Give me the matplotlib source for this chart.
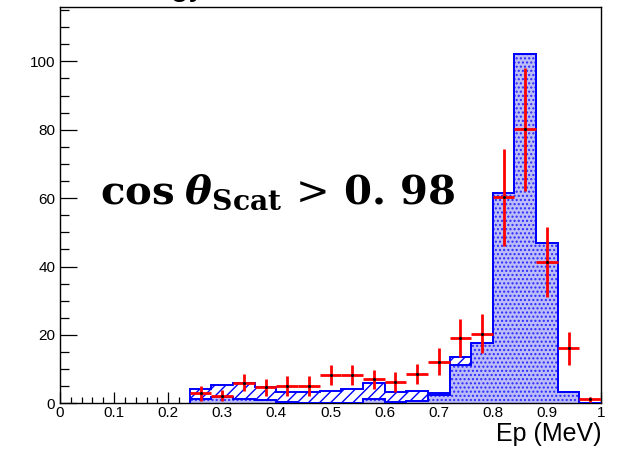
import numpy as np
import matplotlib
matplotlib.use("Agg")
import matplotlib.pyplot as plt
from matplotlib.ticker import MultipleLocator, FixedLocator

plt.rcParams["font.family"] = ["Liberation Sans", "DejaVu Sans"]
plt.rcParams["mathtext.fontset"] = "dejavuserif"
plt.rcParams["hatch.linewidth"] = 1.0

# Histogram binning (Ep in MeV)
bin_lo = 0.24
bin_width = 0.04

# Signal component (bottom of the stack, dotted fill)
signal = [1.2, 2.0, 1.2, 1.0, 0.3, 0.0, 0.0, 0.0, 1.3, 0.5,
          0.6, 2.4, 11.2, 17.6, 61.4, 102.2, 47.0, 3.2, 0.0]
# Background component (stacked on top, hatched fill)
background = [2.9, 3.4, 4.9, 3.8, 2.9, 3.2, 3.7, 4.3, 4.7, 2.8,
              3.0, 0.5, 2.5, 0.0, 0.0, 0.0, 0.0, 0.0, 0.0]
# Measured data with uncertainties
data = [3.0, 2.3, 6.1, 4.7, 5.2, 5.2, 8.3, 8.3, 7.1, 6.2,
        8.6, 12.2, 19.2, 20.3, 60.2, 80.1, 41.3, 16.1, 1.2]
data_err = [2.2, 1.5, 2.5, 2.5, 2.9, 2.9, 3.0, 3.0, 2.8, 3.0,
            2.9, 3.9, 5.6, 5.7, 14.2, 18.0, 10.2, 4.8, 0.8]

x_ticks = [0, 0.1, 0.2, 0.3, 0.4, 0.5, 0.6, 0.7, 0.8, 0.9, 1]
x_tick_labels = ["0", "0.1", "0.2", "0.3", "0.4", "0.5", "0.6", "0.7", "0.8", "0.9", "1"]
y_ticks = [0, 20, 40, 60, 80, 100]

signal = np.array(signal)
background = np.array(background)
total = signal + background
nbins = len(signal)
edges = bin_lo + bin_width * np.arange(nbins + 1)
centers = 0.5 * (edges[:-1] + edges[1:])

W, H = 618, 450
fig = plt.figure(figsize=(W / 100, H / 100), dpi=100)
ax = fig.add_axes([60 / W, (H - 403.4) / H, 541 / W, 396.1 / H])

blue = "#0000ff"
# dotted signal fill
ax.bar(centers, signal, width=bin_width, facecolor="#bcbcf8", edgecolor="#2a2aff",
       hatch="....", linewidth=0, zorder=2)
# hatched background stacked on top
ax.bar(centers, background, bottom=signal, width=bin_width, facecolor="white",
       edgecolor=blue, hatch="///", linewidth=0, zorder=2)
# histogram outlines
ax.stairs(signal, edges, baseline=0, color=blue, linewidth=1.4, zorder=3)
ax.stairs(total, edges, baseline=0, color=blue, linewidth=1.4, zorder=3)

# data points
ax.errorbar(centers, data, xerr=bin_width / 2, yerr=data_err, fmt="none",
            ecolor="#ff0000", elinewidth=2.0, capsize=0, zorder=4)
ax.plot(centers, data, "o", color="black", markersize=1.2, zorder=5)

ax.set_xlim(0, 1)
ax.set_ylim(0, 115.8)

ax.xaxis.set_major_locator(FixedLocator(x_ticks))
ax.set_xticklabels(x_tick_labels)
ax.xaxis.set_minor_locator(MultipleLocator(0.02))
ax.yaxis.set_major_locator(FixedLocator(y_ticks))
ax.yaxis.set_minor_locator(MultipleLocator(5))

ax.tick_params(axis="both", which="both", direction="in", top=False, right=False,
               colors="black", width=0.9, labelsize=11)
ax.tick_params(axis="x", which="major", length=8, pad=2)
ax.tick_params(axis="x", which="minor", length=4)
ax.tick_params(axis="y", which="major", length=12.5, pad=3.5)
ax.tick_params(axis="y", which="minor", length=6.5)
for s in ax.spines.values():
    s.set_linewidth(1.0)
    s.set_color("black")

# axis title
fig.text(602 / W, 1 - 441.5 / H, "Ep (MeV)", ha="right", va="baseline", fontsize=18)

# plot title, pushed mostly above the canvas
fig.text(206 / W, 1 + 5 / H, "Energy", ha="right", va="baseline", fontsize=24)

# selection annotation
ax.text(100 / W, 1 - 204 / H,
        r"$\mathbf{cos}\;\boldsymbol{\theta}_{\mathbf{Scat}}\,>\,\mathbf{0.\,98}$",
        transform=fig.transFigure, ha="left", va="baseline", fontsize=29, color="black")

fig.savefig("out.png", dpi=100)
